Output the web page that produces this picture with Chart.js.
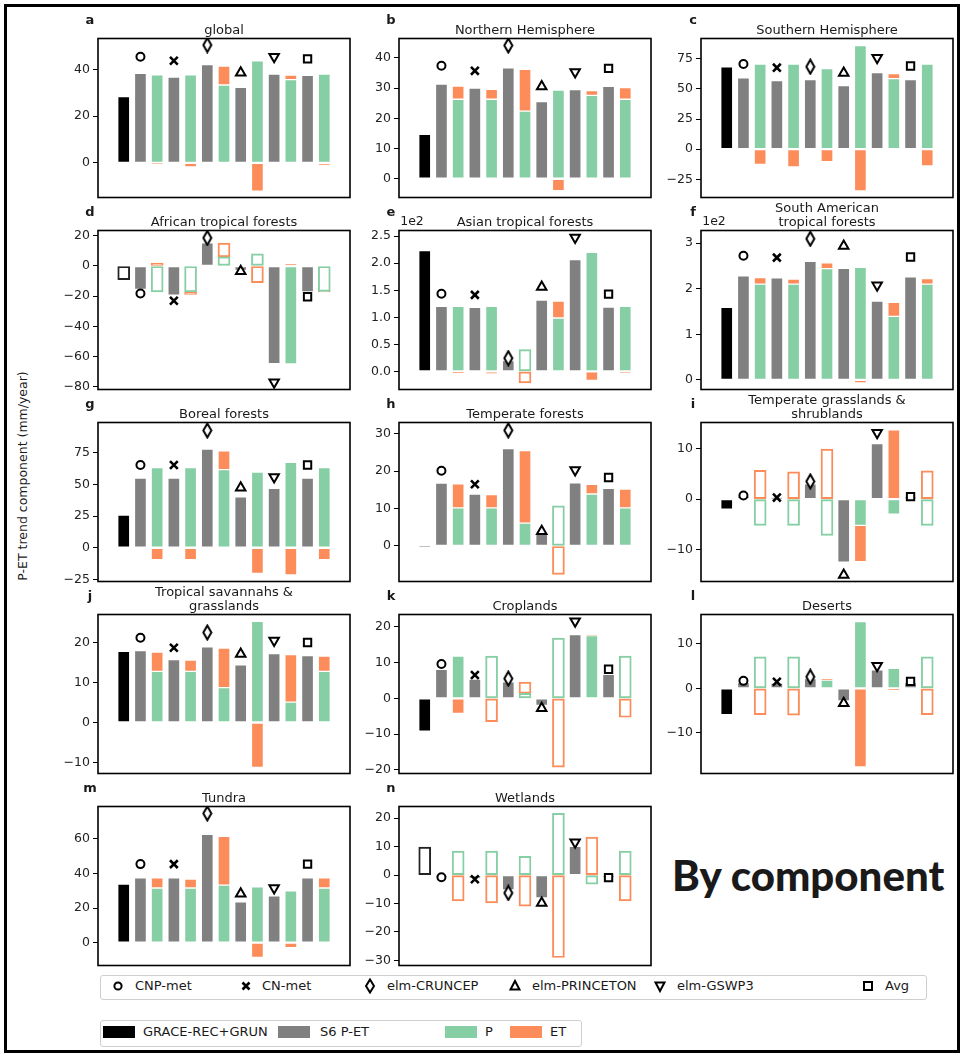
<!DOCTYPE html>
<html>
<head>
<meta charset="utf-8">
<script src="https://cdn.jsdelivr.net/npm/chart.js@4.4.0/dist/chart.umd.min.js"></script>
<style>
  body { margin: 0; width: 962px; height: 1054px; position: relative; overflow: hidden; background: #fff;
         font-family: "DejaVu Sans", sans-serif; color: #1a1a1a; }
  #frame { position: absolute; left: 4px; top: 4px; width: 950px; height: 1043px; border: 3px solid #000; }
  canvas { position: absolute; }
  .ttl { position: absolute; font-size: 13px; line-height: 14px; text-align: center; white-space: pre; transform: translateX(-50%); }
  .let { position: absolute; font-size: 13px; font-weight: bold; line-height: 13px; transform: translate(-50%, -50%); }
  .off { position: absolute; font-size: 12.5px; line-height: 13px; transform: translate(-50%, -50%); }
  #ylab { position: absolute; left: 22px; top: 476px; font-size: 12.5px; white-space: nowrap;
          transform: translate(-50%, -50%) rotate(-90deg); }
  .legbox { position: absolute; border: 1px solid #cfcfcf; border-radius: 3px; background: #fff; }
  .li { position: absolute; font-size: 13px; line-height: 14px; transform: translateY(-50%); white-space: nowrap; }
  .sw { position: absolute; width: 32px; height: 12px; transform: translateY(-50%); box-sizing: border-box; }
  #by { position: absolute; left: 672px; top: 851px; font-family: Lato, "DejaVu Sans", sans-serif;
        font-weight: 900; font-size: 42px; line-height: 48px; white-space: nowrap; }
</style>
</head>
<body>
<div id="frame"></div>
<div id="ylab">P-ET trend component (mm/year)</div>
<div id="by">By component</div>
<div id="panels"></div>
<div id="legends"></div>
<script>
// regions (panels a-n)
const regions = ['global', 'Northern Hemisphere', 'Southern Hemisphere', 'African tropical forests',
  'Asian tropical forests', 'South American\ntropical forests', 'Boreal forests', 'Temperate forests',
  'Temperate grasslands &\nshrublands', 'Tropical savannahs &\ngrasslands', 'Croplands', 'Deserts',
  'Tundra', 'Wetlands'];
const letters = ['a', 'b', 'c', 'd', 'e', 'f', 'g', 'h', 'i', 'j', 'k', 'l', 'm', 'n'];
const models = ['CNP-met', 'CN-met', 'elm-CRUNCEP', 'elm-PRINCETON', 'elm-GSWP3', 'Avg'];

// GRACE-REC+GRUN P-ET trend (mm/year) and whether it is significant
const graceTrend = [28.4, 14.7, 68.4, -9.0, 223.6, 159.0, 25.9, -0.15, -2.0, 17.8, -9.2, -5.9, 33.9, 9.8];
const graceSig = [1, 1, 1, 0, 1, 1, 1, 1, 1, 1, 1, 1, 1, 0];

// S6 P-ET per model
const s6Trend = [
  [38.3, 36.7, 42.0, 32.3, 38.0, 37.4],
  [31.3, 30.0, 36.7, 25.5, 29.5, 30.6],
  [59.1, 56.9, 57.7, 52.7, 63.5, 57.7],
  [-15.6, -19.3, 15.4, -2.9, -64.7, -17.1],
  [120.1, 118.3, 20.2, 131.7, 206.5, 118.9],
  [228.0, 223.7, 260.0, 244.7, 172.8, 225.9],
  [55.0, 55.0, 78.0, 40.3, 46.9, 55.0],
  [16.8, 13.9, 26.0, 3.1, 16.9, 15.4],
  [0.6, 0.3, 3.0, -12.5, 11.0, 0.4],
  [18.0, 15.7, 18.9, 14.4, 17.2, 16.7],
  [8.1, 5.4, 4.6, -2.0, 17.8, 6.7],
  [1.3, 1.2, 2.2, -2.8, 4.2, 1.3],
  [37.4, 37.4, 62.6, 23.6, 27.0, 37.4],
  [-0.7, -1.2, -5.2, -8.0, 10.1, -0.8]
];

// P component per model
const pTrend = [
  [37.7, 37.7, 33.3, 43.7, 35.6, 38.0],
  [26.3, 26.3, 22.4, 29.3, 27.6, 26.3],
  [70.6, 70.6, 66.8, 86.0, 58.5, 70.6],
  [-17.1, -17.1, 6.1, 8.1, -64.9, -16.8],
  [120.1, 120.1, 40.4, 98.7, 220.0, 120.1],
  [209.9, 209.9, 244.0, 246.9, 139.4, 209.9],
  [63.4, 63.4, 61.8, 59.9, 67.5, 63.4],
  [10.2, 10.2, 6.1, 10.7, 13.9, 10.2],
  [-5.2, -5.2, -7.2, -5.2, -3.0, -5.2],
  [12.8, 12.8, 8.7, 25.3, 5.1, 12.8],
  [11.8, 11.8, 1.4, 16.8, 17.5, 11.8],
  [7.1, 7.1, 1.9, 15.0, 4.5, 7.1],
  [31.6, 31.6, 33.3, 32.2, 29.9, 31.6],
  [8.4, 8.4, 6.6, 21.7, -3.2, 8.4]
];

// ET component (contribution to P-ET) per model
const etTrend = [
  [-0.3, -1.7, 8.1, -12.1, 2.0, -1.0],
  [4.4, 3.3, 13.8, -3.9, 1.6, 3.9],
  [-12.6, -14.8, -10.4, -34.6, 4.1, -14.0],
  [2.0, -1.8, 9.0, -11.0, 1.5, -0.4],
  [-2.5, -4.9, -21.4, 31.2, -16.5, -3.1],
  [14.5, 10.9, 12.4, -6.5, 30.5, 12.3],
  [-9.4, -9.4, 14.9, -20.4, -21.5, -9.4],
  [6.4, 3.5, 19.4, -7.6, 2.6, 5.0],
  [5.7, 5.4, 9.9, -7.2, 13.7, 5.6],
  [4.8, 2.8, 9.9, -11.2, 11.9, 3.8],
  [-4.2, -6.5, 3.1, -19.2, 0.2, -5.3],
  [-5.9, -6.0, 0.3, -17.6, -0.45, -5.9],
  [5.8, 5.2, 28.2, -8.6, -2.9, 5.8],
  [-9.1, -9.8, -10.9, -29.0, 13.3, -9.1]
];

// significance of the P / ET components (1 = filled, 0 = hollow)
const stackSig = [
  [1, 1, 1, 1, 1, 1], [1, 1, 1, 1, 1, 1], [1, 1, 1, 1, 1, 1], [0, 0, 0, 0, 1, 0],
  [1, 1, 0, 1, 1, 1], [1, 1, 1, 1, 1, 1], [1, 1, 1, 1, 1, 1], [1, 1, 1, 0, 1, 1],
  [0, 0, 0, 1, 1, 0], [1, 1, 1, 1, 1, 1], [1, 0, 0, 0, 1, 0], [0, 0, 1, 1, 1, 0],
  [1, 1, 1, 1, 1, 1], [0, 0, 0, 0, 0, 0]
];

// full-simulation P-ET per model (markers)
const modelMarker = [
  [45.4, 43.7, 50.4, 38.6, 45.4, 44.5],
  [37.4, 35.7, 44.1, 30.5, 35.3, 36.5],
  [70.6, 67.6, 68.4, 63.2, 75.8, 69.0],
  [-18.2, -23.0, 18.6, -3.5, -77.0, -20.4],
  [143.4, 141.5, 24.5, 156.2, 247.5, 142.8],
  [272.3, 268.0, 309.4, 293.4, 207.7, 269.4],
  [65.4, 65.4, 92.7, 47.4, 56.0, 65.4],
  [20.1, 16.5, 30.9, 3.9, 20.3, 18.3],
  [0.7, 0.3, 3.5, -15.0, 13.1, 0.5],
  [21.2, 18.7, 22.5, 17.1, 20.5, 20.0],
  [9.6, 6.5, 5.5, -2.8, 21.5, 8.1],
  [1.7, 1.5, 2.6, -3.3, 5.1, 1.6],
  [45.4, 45.4, 74.7, 28.2, 31.6, 45.4],
  [-0.8, -1.5, -6.3, -9.8, 11.5, -0.9]
];

// axis limits and ticks
const yMin = [-14.8, -6.2, -40.1, -81.8, -33.5, -21, -26.7, -9.5, -16.3, -12.75, -21, -19.1, -13.2, -31.8];
const yMax = [53.2, 46.4, 91.8, 23.5, 260.5, 327.5, 99, 33, 15.15, 27, 23.4, 16.6, 78.7, 24.1];
const yTicks = [
  [0, 20, 40], [0, 10, 20, 30, 40], [-25, 0, 25, 50, 75], [-80, -60, -40, -20, 0, 20],
  [0, 50, 100, 150, 200, 250], [0, 100, 200, 300], [-25, 0, 25, 50, 75], [0, 10, 20, 30],
  [-10, 0, 10], [-10, 0, 10, 20], [-20, -10, 0, 10, 20], [-10, 0, 10], [0, 20, 40, 60],
  [-30, -20, -10, 0, 10, 20]
];
const tickOffset = [1, 1, 1, 1, 100, 100, 1, 1, 1, 1, 1, 1, 1, 1];

// layout
const colLeft = [98, 399, 701];
const rowTop = [38, 230, 422, 614, 806];
const AXW = 252, AXH = 160, YW = 60, PAD = 10;

const BLACK = '#000000', GRAY = '#808080', GREEN = '#86cea4', ORANGE = '#fc8d5a';
const EDGE = 'rgba(255,255,255,0.5)';
const MINUS = '\u2212';

// thin diamond marker
function thinDiamond() {
  const c = document.createElement('canvas');
  c.width = 11; c.height = 17;
  const x = c.getContext('2d');
  x.beginPath();
  x.moveTo(5.5, 1.5); x.lineTo(9.5, 8.5); x.lineTo(5.5, 15.5); x.lineTo(1.5, 8.5); x.closePath();
  x.fillStyle = '#fff'; x.fill();
  x.lineWidth = 2; x.strokeStyle = '#000'; x.stroke();
  return c;
}
const diamond = thinDiamond();
const markerStyle = ['circle', 'crossRot', diamond, 'triangle', 'triangle', 'rect'];
const markerRot = [0, 0, 0, 0, 180, 0];
const markerRadius = [4, 5.5, 5, 5.5, 5.5, 5.2];
const markerBorder = [2, 2.6, 2, 2, 2, 2];

const frame = {
  id: 'frame',
  afterDatasetsDraw(chart) {
    const a = chart.chartArea, ctx = chart.ctx;
    ctx.save();
    ctx.strokeStyle = '#000';
    ctx.lineWidth = 1.6;
    ctx.strokeRect(a.left, a.top, a.right - a.left, a.bottom - a.top);
    ctx.restore();
  }
};

function fmt(v, k) {
  if (!yTicks[k].includes(v)) return null;
  const off = tickOffset[k];
  let s;
  if (off !== 1) {
    const dec = yTicks[k].every(t => (t / off) % 1 === 0) ? 0 : 1;
    s = Math.abs(v / off).toFixed(dec);
  } else {
    s = String(Math.abs(v));
  }
  return v < 0 ? MINUS + s : s;
}

const panels = document.getElementById('panels');

regions.forEach((name, k) => {
  const left = colLeft[k % 3], top = rowTop[Math.floor(k / 3)];

  const cv = document.createElement('canvas');
  cv.width = YW + AXW + PAD;
  cv.height = AXH + 2 * PAD;
  cv.style.left = (left - YW) + 'px';
  cv.style.top = (top - PAD) + 'px';
  panels.appendChild(cv);

  const lines = name.split('\n').length;
  const t = document.createElement('div');
  t.className = 'ttl';
  t.textContent = name;
  t.style.left = (left + AXW / 2) + 'px';
  t.style.top = (top - 1 - lines * 14) + 'px';
  panels.appendChild(t);

  const l = document.createElement('div');
  l.className = 'let';
  l.textContent = letters[k];
  l.style.left = (left - 8) + 'px';
  l.style.top = (top - 19) + 'px';
  panels.appendChild(l);

  if (tickOffset[k] !== 1) {
    const o = document.createElement('div');
    o.className = 'off';
    o.textContent = '1e' + Math.round(Math.log10(tickOffset[k]));
    o.style.left = (left + 13) + 'px';
    o.style.top = (top - 10) + 'px';
    panels.appendChild(o);
  }

  const sig = stackSig[k];
  const fillFor = (color) => sig.map(s => s ? color : 'rgba(0,0,0,0)');
  const edgeFor = (color) => sig.map(s => s ? EDGE : color);
  const widthFor = sig.map(s => s ? 1 : 1.3);

  new Chart(cv, {
    type: 'bar',
    data: {
      datasets: [
        {
          type: 'scatter',
          label: 'markers',
          data: modelMarker[k].map((v, i) => ({ x: 2 * i + 1, y: v })),
          stack: 'm',
          order: 0,
          pointStyle: markerStyle,
          pointRotation: markerRot,
          pointRadius: markerRadius,
          pointBorderWidth: markerBorder,
          pointBackgroundColor: '#fff',
          pointBorderColor: '#000'
        },
        {
          label: 'GRACE-REC+GRUN',
          data: [{ x: 0, y: graceTrend[k] }],
          stack: 'b', order: 1,
          backgroundColor: graceSig[k] ? BLACK : 'rgba(0,0,0,0)',
          borderColor: graceSig[k] ? EDGE : '#222',
          borderWidth: graceSig[k] ? 1 : 1.3
        },
        {
          label: 'S6 P-ET',
          data: s6Trend[k].map((v, i) => ({ x: 2 * i + 1, y: v })),
          stack: 'b', order: 1,
          backgroundColor: GRAY, borderColor: EDGE, borderWidth: 1
        },
        {
          label: 'P',
          data: pTrend[k].map((v, i) => ({ x: 2 * i + 2, y: v })),
          stack: 'b', order: 1,
          backgroundColor: fillFor(GREEN), borderColor: edgeFor(GREEN), borderWidth: widthFor
        },
        {
          label: 'ET',
          data: etTrend[k].map((v, i) => ({ x: 2 * i + 2, y: v })),
          stack: 'b', order: 1,
          backgroundColor: fillFor(ORANGE), borderColor: edgeFor(ORANGE), borderWidth: widthFor
        }
      ]
    },
    options: {
      responsive: false,
      animation: false,
      events: [],
      datasets: { bar: { barThickness: 12, borderSkipped: false } },
      layout: { padding: { left: 0, right: PAD, top: PAD, bottom: PAD } },
      plugins: { legend: { display: false }, tooltip: { enabled: false } },
      scales: {
        x: { type: 'linear', display: false, min: -0.96, max: 12.96, ticks: { includeBounds: false, stepSize: 1 } },
        y: {
          stacked: true,
          min: yMin[k], max: yMax[k],
          afterFit: s => { s.width = YW; },
          ticks: {
            stepSize: yTicks[k][1] - yTicks[k][0],
            includeBounds: false,
            autoSkip: false,
            callback: v => fmt(v, k),
            font: { family: 'DejaVu Sans', size: 12.5 },
            color: '#222',
            padding: 3
          },
          grid: { drawOnChartArea: false, drawTicks: true, tickLength: 5, color: '#000', lineWidth: 1 },
          border: { display: false }
        }
      }
    },
    plugins: [frame]
  });
});

// legends
const markerSvg = [
  '<circle cx="8" cy="8" r="3.6" fill="#fff" stroke="#000" stroke-width="2"/>',
  '<path d="M4.5 4.5 L11.5 11.5 M11.5 4.5 L4.5 11.5" stroke="#000" stroke-width="2.6"/>',
  '<path d="M8 1.5 L12 8 L8 14.5 L4 8 Z" fill="#fff" stroke="#000" stroke-width="2"/>',
  '<path d="M8 3 L12.5 11.5 L3.5 11.5 Z" fill="#fff" stroke="#000" stroke-width="2"/>',
  '<path d="M8 13 L12.5 4.5 L3.5 4.5 Z" fill="#fff" stroke="#000" stroke-width="2"/>',
  '<rect x="4" y="4" width="8" height="8" fill="#fff" stroke="#000" stroke-width="2"/>'
];
const markerX = [118, 246, 370, 515, 660, 868];
const markerTextX = [135, 262, 387, 532, 677, 885];
const barNames = ['GRACE-REC+GRUN', 'S6 P-ET', 'P', 'ET'];
const barColors = [BLACK, GRAY, GREEN, ORANGE];
const swatchX = [103, 278, 445, 510];
const swatchTextX = [143, 320, 485, 550];

let html = '<div class="legbox" style="left:100px;top:975px;width:825px;height:23px"></div>';
models.forEach((m, i) => {
  html += '<svg style="position:absolute;left:' + (markerX[i] - 8) + 'px;top:978px" width="16" height="16">' + markerSvg[i] + '</svg>';
  html += '<div class="li" style="left:' + markerTextX[i] + 'px;top:986px">' + m + '</div>';
});
html += '<div class="legbox" style="left:100px;top:1020px;width:480px;height:25px"></div>';
barNames.forEach((n, i) => {
  html += '<div class="sw" style="left:' + swatchX[i] + 'px;top:1032px;background:' + barColors[i] + '"></div>';
  html += '<div class="li" style="left:' + swatchTextX[i] + 'px;top:1032px">' + n + '</div>';
});
document.getElementById('legends').innerHTML = html;
</script>
</body>
</html>
